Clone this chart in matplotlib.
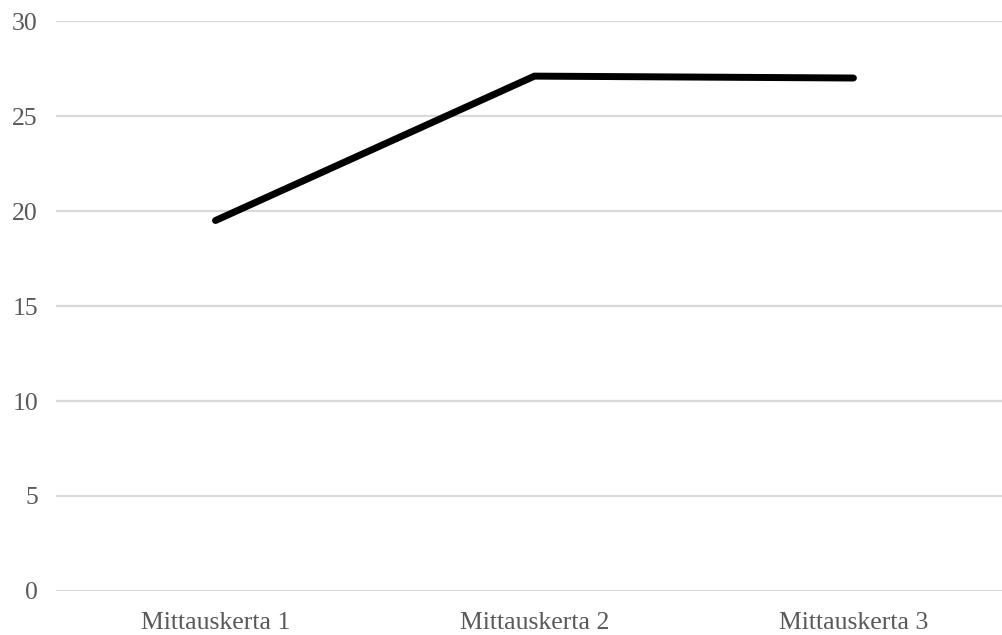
import matplotlib.pyplot as plt

# measurement rounds and the mean value at each
categories = ["Mittauskerta 1", "Mittauskerta 2", "Mittauskerta 3"]
values = [19.5, 27.1, 27.0]
y_ticks = [0, 5, 10, 15, 20, 25, 30]

plt.rcParams["font.family"] = ["Liberation Serif", "DejaVu Serif"]
text_color = "#595959"
grid_color = "#d9d9d9"

fig = plt.figure(figsize=(10.02, 6.35), dpi=100)
ax = fig.add_axes([0.0559, 0.0693, 0.955, 0.8976])

xs = list(range(len(categories)))
ax.plot(xs, values, color="black", linewidth=5, solid_capstyle="round",
        solid_joinstyle="miter", zorder=3)

ax.set_xlim(-0.5, len(categories) - 0.5)
ax.set_ylim(0, 30)
ax.set_yticks(y_ticks)
ax.set_xticks(xs)
ax.set_xticklabels(categories)

for y in y_ticks:
    ax.axhline(y, color=grid_color, linewidth=1.6, zorder=1)

for side in ["top", "right", "left", "bottom"]:
    ax.spines[side].set_visible(False)

ax.tick_params(axis="y", length=0, pad=13, labelsize=18.5, labelcolor=text_color)
ax.tick_params(axis="x", length=0, pad=15, labelsize=18.5, labelcolor=text_color)

fig.savefig("out.png", dpi=100)
